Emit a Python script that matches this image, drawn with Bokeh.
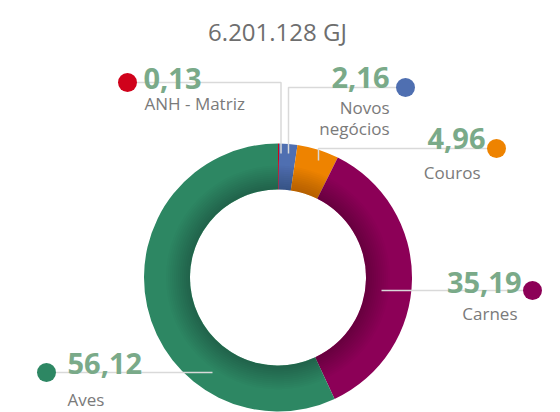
import math
from bokeh.plotting import figure
from bokeh.models import Range1d, ColumnDataSource
from bokeh.core.properties import value
from bokeh.embed import file_html
from bokeh.resources import INLINE

# ---- data ----
categories = ["ANH - Matriz", "Novos negócios", "Couros", "Carnes", "Aves"]
label_lines = [["ANH - Matriz"], ["Novos", "negócios"], ["Couros"], ["Carnes"], ["Aves"]]
shares = [0.13, 2.16, 4.96, 35.19, 56.12]
total_gj = 6201128
colors = ["#d0021b", "#4f6fb1", "#ee8300", "#8c0057", "#2d8763"]

W, H = 560, 412
def fy(y):
    return H - y

# ---- layout (pixel coords, y downward) ----
cx, cy = 277.5, 277
r_out, r_in = 134, 88
dots = [(127, 82), (405, 87), (496, 148), (532, 290), (46, 372)]
paths = [
    [(127, 82), (280.5, 82), (280.5, 153)],
    [(405, 87), (288, 87), (288, 153)],
    [(496, 148), (318, 148), (318, 160)],
    [(532, 290), (381, 290)],
    [(46, 372), (212, 372)],
]
val_pos = [(143, 78, "left"), (389, 77, "right"), (485, 138, "right"), (521, 282, "right"), (67, 363, "left")]
lab_pos = [(144, 103, "left"), (389, 107, "right"), (480, 172, "right"), (517, 313, "right"), (67, 399, "left")]
lab_step = 21

p = figure(width=W, height=H, x_range=Range1d(0, W), y_range=Range1d(0, H),
           output_backend="svg", toolbar_location=None, min_border=0)
p.axis.visible = False
p.grid.visible = False
p.outline_line_color = None
p.background_fill_color = "white"

# donut
tot = sum(shares)
starts, ends = [], []
acc = 0.0
for v in shares:
    starts.append(math.pi / 2 - acc / tot * 2 * math.pi)
    acc += v
    ends.append(math.pi / 2 - acc / tot * 2 * math.pi)
src = ColumnDataSource(dict(x=[cx] * len(shares), y=[fy(cy)] * len(shares),
                            s=starts, e=ends, c=colors))
p.annular_wedge(x="x", y="y", inner_radius=r_in, outer_radius=r_out,
                start_angle="s", end_angle="e", direction="clock",
                fill_color="c", line_color=None, source=src)

# inner shading
for k in range(1, 13):
    p.annulus(x=cx, y=fy(cy), inner_radius=r_in, outer_radius=r_in + k * 2,
              fill_color="black", fill_alpha=0.02, line_color=None)

# leader lines
for path in paths:
    p.line([pt[0] for pt in path], [fy(pt[1]) for pt in path],
           line_color="#d9d9d9", line_width=1.5)

# dots
p.scatter([d[0] for d in dots], [fy(d[1]) for d in dots], size=19,
          fill_color=colors, line_color=None)

font = value("Open Sans")
for v, (x, y, al) in zip(shares, val_pos):
    p.text([x], [fy(y)], text=[f"{v:.2f}".replace(".", ",")], text_font=font,
           text_font_size=value("29px"), text_font_style="bold",
           text_color="#7aaa89", text_align=al, text_baseline="alphabetic")
for lines, (x, y, al) in zip(label_lines, lab_pos):
    for i, ln in enumerate(lines):
        p.text([x], [fy(y + i * lab_step)], text=[ln], text_font=font,
               text_font_size=value("17px"), text_color="#7a7a7a",
               text_align=al, text_baseline="alphabetic")

title = f"{total_gj:,}".replace(",", ".") + " GJ"
p.text([277], [fy(31)], text=[title], text_font=font, text_font_size=value("24px"),
       text_color="#6e6e6e", text_align="center", text_baseline="alphabetic")

open("out.html", "w").write(file_html(p, INLINE))
